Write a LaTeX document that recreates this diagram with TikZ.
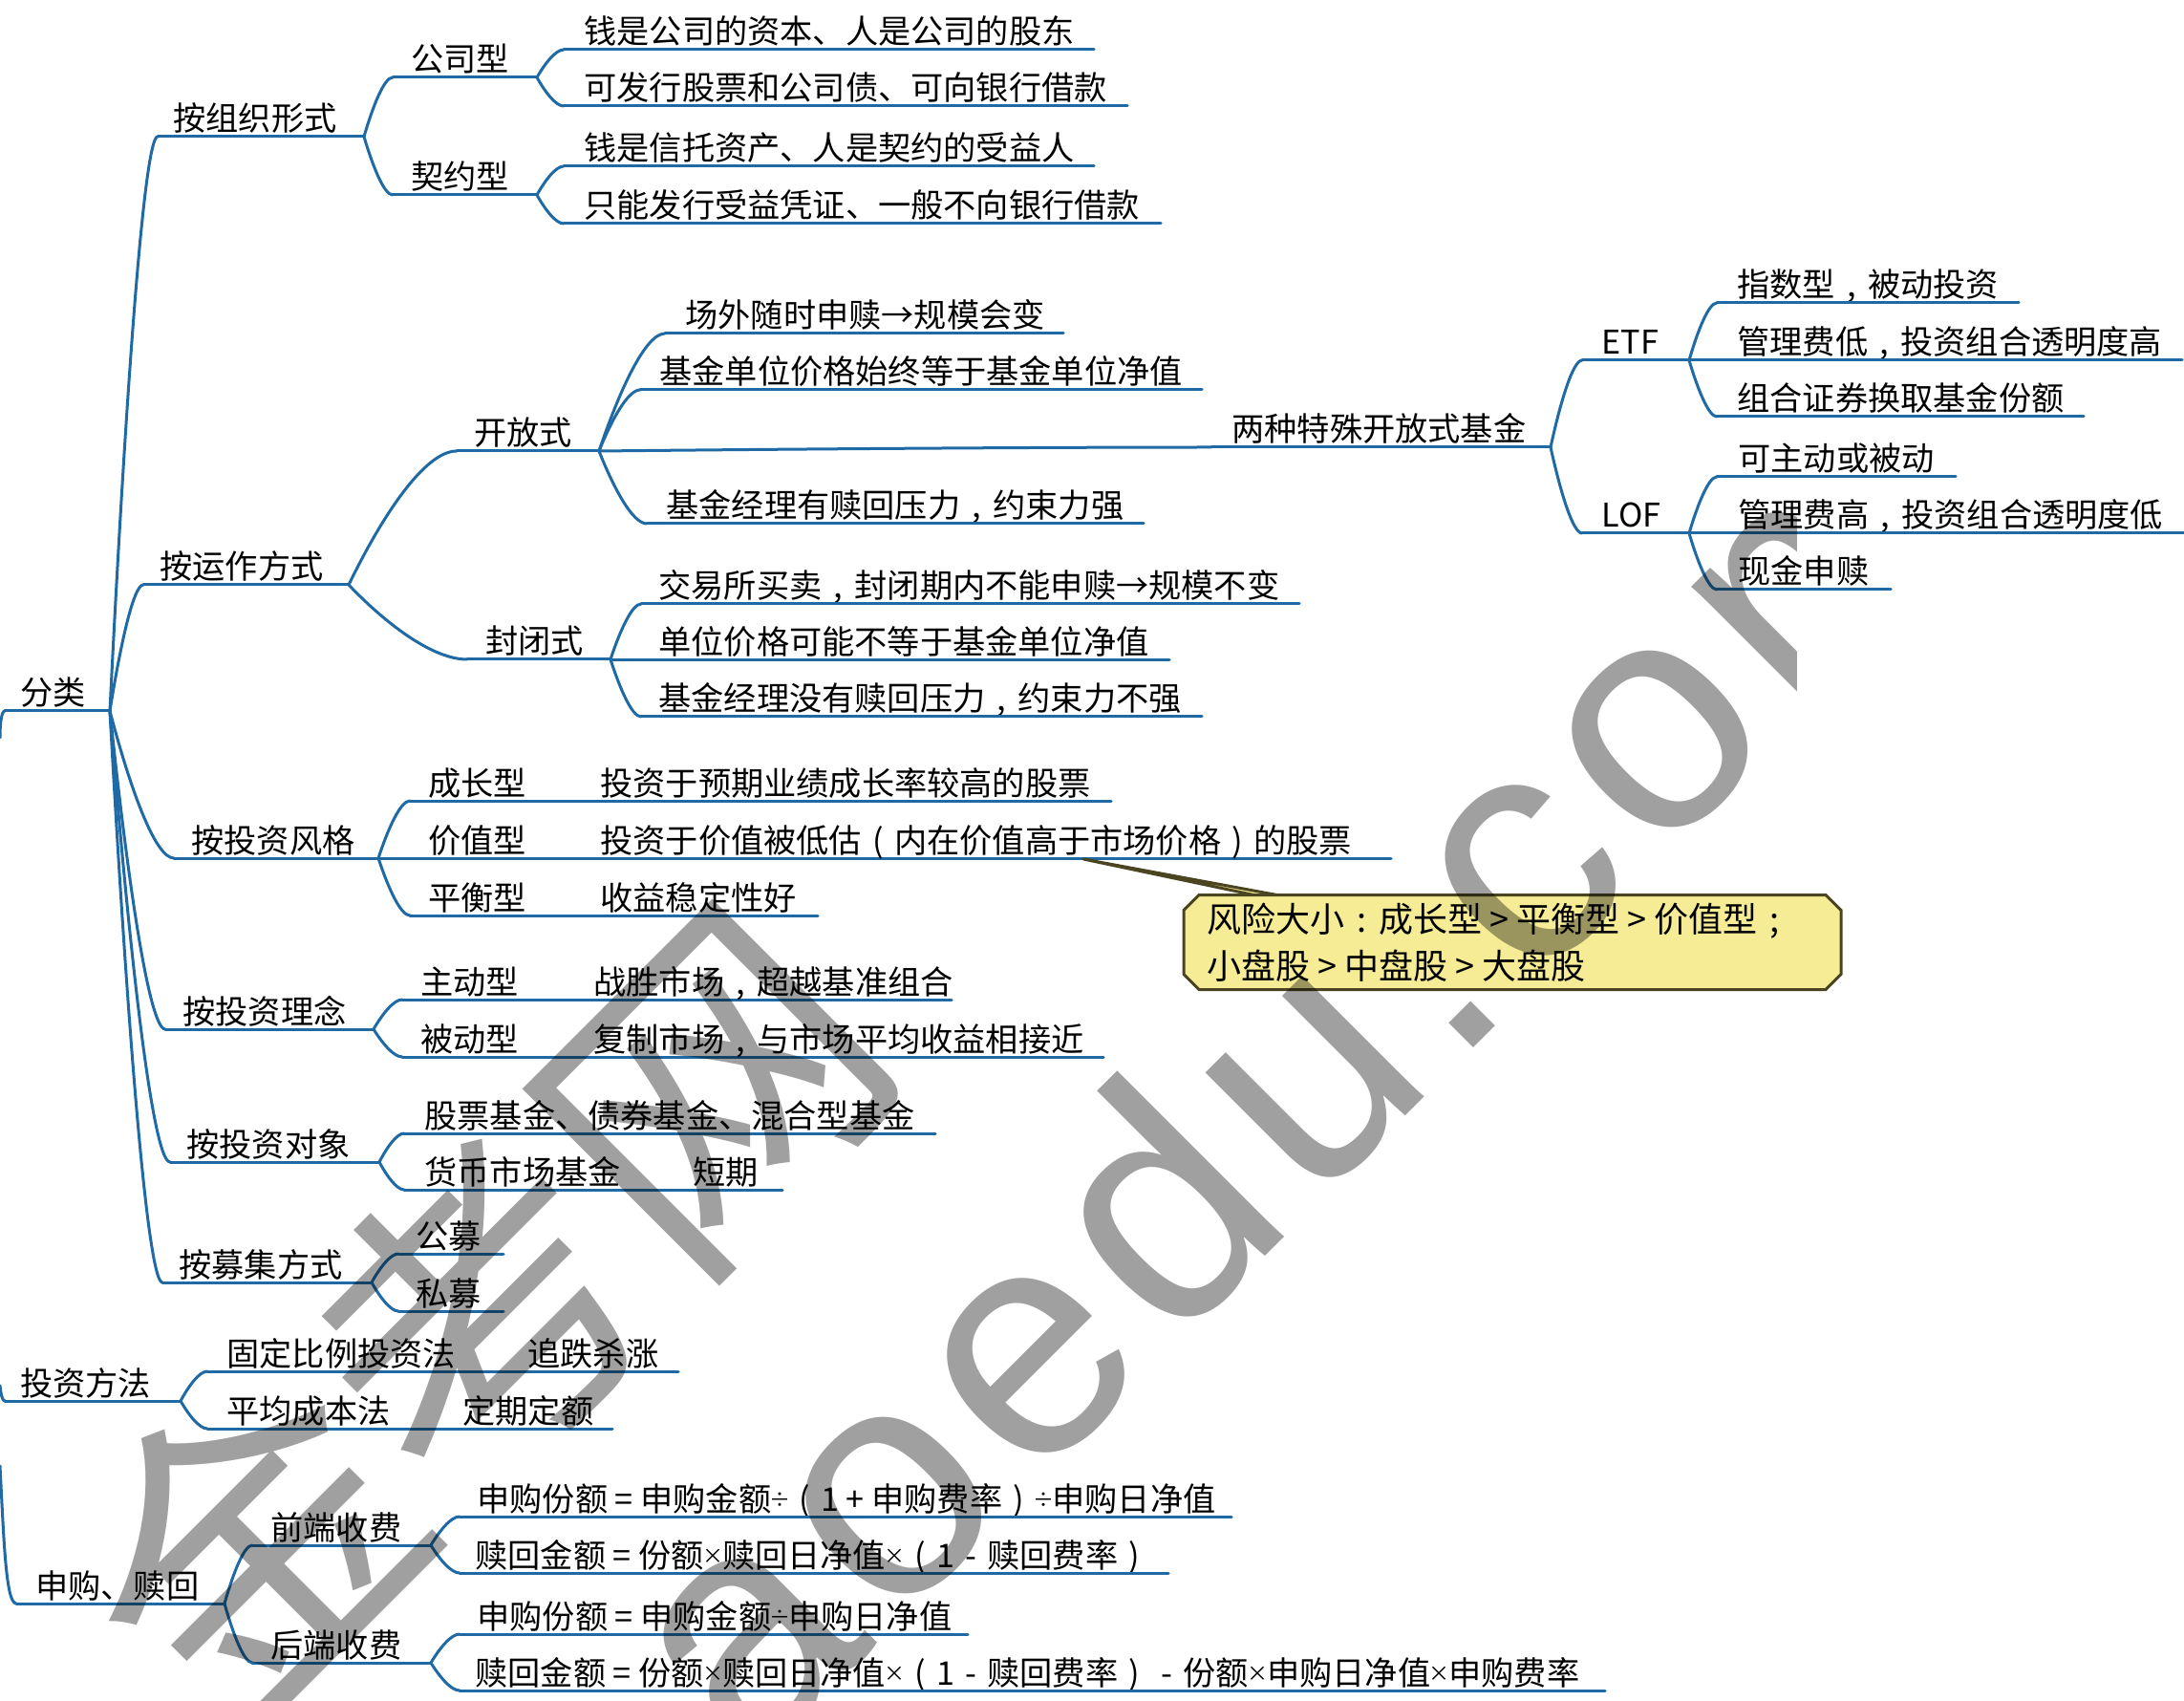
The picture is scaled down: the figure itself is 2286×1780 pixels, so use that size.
\documentclass[tikz,border=0pt]{standalone}
\usepackage{fontspec}
\setmainfont{Noto Sans CJK SC}
\newfontfamily\wmlatin[LetterSpace=5.6]{Liberation Sans}
\usetikzlibrary{calc,shapes.misc}
\definecolor{mapblue}{HTML}{1F6AA5}
\definecolor{notefill}{HTML}{F6EC96}
\definecolor{noteline}{HTML}{4A4520}
\definecolor{wmgray}{HTML}{A0A0A0}
\newcommand\fw[1]{\makebox[17.1pt][c]{#1}}
\newcommand\fwb[1]{\makebox[18pt][c]{#1}}
\newcommand\mul{\makebox[9.6pt][c]{\raisebox{1.6pt}{\fontsize{11}{11}\selectfont ×}}}
\newcommand\dvd{\makebox[9pt][c]{\raisebox{1.6pt}{\fontsize{11}{11}\selectfont ÷}}}
\newcommand\topic[6]{%
  \coordinate (#1-l) at (#2,#4);
  \coordinate (#1-r) at (#3,#4);
  \node[lab] (#1) at ({#5},{#4-6}) {#6};
  \draw[branchline] (#1-l) -- (#1-r);
}
\newcommand\extra[4]{\node[lab] (#1) at ({#2},{#3-6}) {#4};}
\newcommand\branch[2]{%
  \draw[branchline] let \p1=(#1-r),\p2=(#2-l) in (\p1) .. controls ({\x1+.3*(\x2-\x1)},{\y1+.5*(\y2-\y1)}) and ({\x1+.7*(\x2-\x1)},\y2) .. (\p2);
}
\tikzset{
  lab/.style={anchor=base west,inner sep=0pt,text=black,font=\fontsize{17.1}{20}\selectfont},
  branchline/.style={draw=mapblue,line width=1.5pt,line cap=round},
}
\begin{document}
\begin{tikzpicture}[x=.5pt,y=-.5pt]
\useasboundingbox (0,0) rectangle (2286,1780);
\fill[white] (0,0) rectangle (2286,1780);

\coordinate (in-a) at (0,772);
\coordinate (in-b) at (0,1450);
\coordinate (in-c) at (0,1534);

\topic{root}{5}{115}{744}{21}{分类}
\draw[branchline] (in-a) .. controls (0,755) and (2,744) .. (root-l);

\topic{org}{165}{381}{143}{181}{按组织形式}
\topic{gs}{411}{562}{81}{430}{公司型}
\topic{qy}{411}{562}{204}{430}{契约型}
\topic{gs1}{590}{1145}{52}{611}{钱是公司的资本、人是公司的股东}
\topic{gs2}{590}{1180}{111}{611}{可发行股票和公司债、可向银行借款}
\topic{qy1}{590}{1145}{174}{611}{钱是信托资产、人是契约的受益人}
\topic{qy2}{590}{1215}{234}{611}{只能发行受益凭证、一般不向银行借款}

\topic{op}{150}{365}{612}{167}{按运作方式}
\topic{kf}{478}{627}{472}{496}{开放式}
\topic{kf1}{696}{1113}{349}{717}{场外随时申赎\fw{→}规模会变}
\topic{kf2}{670}{1258}{408}{690}{基金单位价格始终等于基金单位净值}
\topic{two}{1268}{1623}{468}{1289}{两种特殊开放式基金}
\topic{kf4}{677}{1197}{548}{697}{基金经理有赎回压力\fw{,}约束力强}
\topic{etf}{1656}{1768}{377}{1676}{ETF}
\topic{lof}{1656}{1768}{558}{1676}{LOF}
\topic{e1}{1797}{2113}{317}{1818}{指数型\fw{,}被动投资}
\topic{e2}{1768}{2284}{377}{1818}{管理费低\fw{,}投资组合透明度高}
\topic{e3}{1797}{2181}{436}{1818}{组合证券换取基金份额}
\topic{l1}{1797}{2047}{499}{1819}{可主动或被动}
\topic{l2}{1768}{2286}{558}{1819}{管理费高\fw{,}投资组合透明度低}
\topic{l3}{1797}{1979}{617}{1819}{现金申赎}
\topic{fb}{489}{639}{690}{508}{封闭式}
\topic{fb1}{671}{1360}{632}{689}{交易所买卖\fw{,}封闭期内不能申赎\fw{→}规模不变}
\topic{fb2}{639}{1224}{691}{689}{单位价格可能不等于基金单位净值}
\topic{fb3}{671}{1258}{750}{689}{基金经理没有赎回压力\fw{,}约束力不强}

\topic{fg}{182}{396}{898}{200}{按投资风格}
\topic{cz}{429}{1163}{838}{448}{成长型}
\extra{cz2}{628}{838}{投资于预期业绩成长率较高的股票}
\topic{jz}{396}{1456}{898}{448}{价值型}
\extra{jz2}{628}{898}{投资于价值被低估\fw{(}内在价值高于市场价格\fw{)}的股票}
\topic{ph}{429}{856}{958}{448}{平衡型}
\extra{ph2}{628}{958}{收益稳定性好}

\topic{ln}{173}{391}{1077}{191}{按投资理念}
\topic{zd}{421}{996}{1046}{440}{主动型}
\extra{zd2}{621}{1046}{战胜市场\fw{,}超越基准组合}
\topic{bd}{421}{1155}{1106}{440}{被动型}
\extra{bd2}{621}{1106}{复制市场\fw{,}与市场平均收益相接近}

\topic{dx}{178}{397}{1216}{195}{按投资对象}
\topic{gp}{423}{979}{1186}{444}{股票基金、债券基金、混合型基金}
\topic{hb}{423}{819}{1245}{444}{货币市场基金}
\extra{hb2}{725}{1245}{短期}

\topic{mj}{170}{389}{1342}{187}{按募集方式}
\topic{gm}{417}{527}{1312}{435}{公募}
\topic{sm}{417}{527}{1372}{435}{私募}

\topic{ff}{5}{189}{1466}{21}{投资方法}
\draw[branchline] (in-b) .. controls (1,1458) and (2,1466) .. (ff-l);
\topic{gd}{217}{710}{1435}{237}{固定比例投资法}
\extra{gd2}{552}{1435}{追跌杀涨}
\topic{pj}{217}{641}{1495}{237}{平均成本法}
\extra{pj2}{484}{1495}{定期定额}

\topic{sg}{17}{235}{1678}{37}{申购、赎回}
\draw[branchline] (in-c) .. controls (4,1610) and (6,1678) .. (sg-l);
\topic{qd}{264}{451}{1617}{283}{前端收费}
\topic{hd}{264}{451}{1740}{283}{后端收费}
\topic{q1}{481}{1289}{1587}{499}{申购份额\fw{=}申购金额\dvd\fw{(}1\fw{+}申购费率\fw{)}\dvd 申购日净值}
\topic{q2}{481}{1223}{1646}{497}{赎回金额\fw{=}份额\mul 赎回日净值\mul\fw{(}1\fw{-}赎回费率\fw{)}}
\topic{h1}{481}{1013}{1710}{499}{申购份额\fw{=}申购金额\dvd 申购日净值}
\topic{h2}{481}{1680}{1769}{497}{赎回金额\fw{=}份额\mul 赎回日净值\mul\fw{(}1\fw{-}赎回费率\fw{)}\fw{-}份额\mul 申购日净值\mul 申购费率}

\foreach \c in {org,op,fg,ln,dx,mj}{\branch{root}{\c}}
\branch{org}{gs}\branch{org}{qy}
\branch{gs}{gs1}\branch{gs}{gs2}\branch{qy}{qy1}\branch{qy}{qy2}
\branch{op}{kf}\branch{op}{fb}
\branch{kf}{kf1}\branch{kf}{kf2}\branch{kf}{two}\branch{kf}{kf4}
\branch{two}{etf}\branch{two}{lof}
\branch{etf}{e1}\branch{etf}{e3}\branch{lof}{l1}\branch{lof}{l3}
\branch{fb}{fb1}\branch{fb}{fb3}
\branch{fg}{cz}\branch{fg}{ph}
\branch{ln}{zd}\branch{ln}{bd}
\branch{dx}{gp}\branch{dx}{hb}
\branch{mj}{gm}\branch{mj}{sm}
\branch{ff}{gd}\branch{ff}{pj}
\branch{sg}{qd}\branch{sg}{hd}
\branch{qd}{q1}\branch{qd}{q2}\branch{hd}{h1}\branch{hd}{h2}

% callout
\coordinate (tailtip) at (1134,899);
\coordinate (tailA) at (1324,939);
\coordinate (tailB) at (1350,939);
\draw[noteline,fill=notefill,line width=1.5pt,line join=round] (tailtip) -- (tailA) -- (tailB) -- cycle;
\node[chamfered rectangle,chamfered rectangle xsep=4pt,chamfered rectangle ysep=4pt,
      draw=noteline,fill=notefill,line width=1.5pt,minimum width=344pt,minimum height=49.5pt,inner sep=0pt,
      text width=320pt,align=left,font=\fontsize{18}{24.5}\selectfont] (note) at (1583,986)
  {风险大小\fwb{:}成长型\fwb{>}平衡型\fwb{>}价值型\fwb{;}\\小盘股\fwb{>}中盘股\fwb{>}大盘股};

% watermark
\begin{scope}[blend mode=multiply]
\clip (0,0) rectangle (1880,1780);
\node[rotate=45,anchor=base west,inner sep=0pt,text=wmgray,font=\wmlatin\fontsize{170}{180}\selectfont] (wm1) at (785,1854) {aoedu.com};
\node[rotate=45,anchor=base west,inner sep=0pt,text=wmgray,font=\fontsize{170}{180}\selectfont] (wm2) at (232,1830) {金考网};
\end{scope}
\end{tikzpicture}
\end{document}
